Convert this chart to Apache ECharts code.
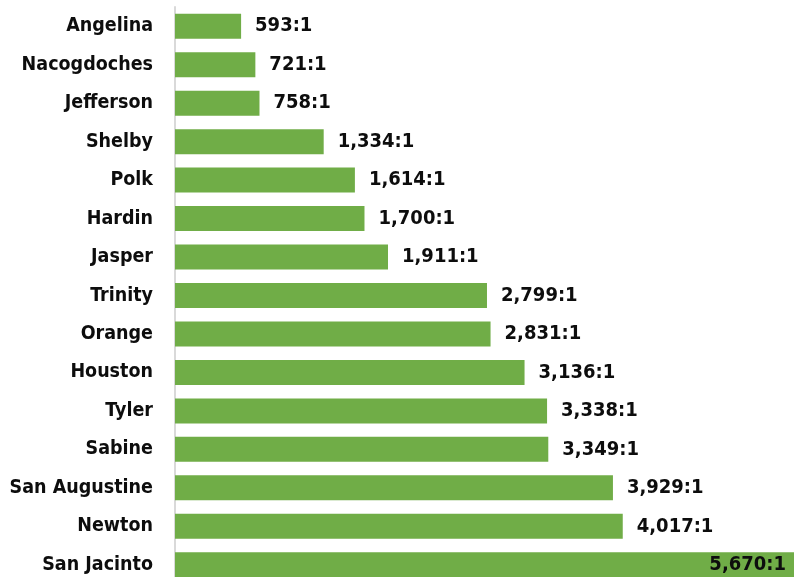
<!DOCTYPE html>
<html><head><meta charset="utf-8">
<script src="https://cdn.jsdelivr.net/npm/echarts@6/dist/echarts.min.js"></script>
<style>html,body{margin:0;padding:0;background:#fff}#c{width:794px;height:577px}</style>
</head><body><div id="c"></div>
<script>
const categories = ["Angelina","Nacogdoches","Jefferson","Shelby","Polk","Hardin","Jasper","Trinity","Orange","Houston","Tyler","Sabine","San Augustine","Newton","San Jacinto"];
const values = [593,721,758,1334,1614,1700,1911,2799,2831,3136,3338,3349,3929,4017,5670];
const FONT = '"DejaVu Sans Condensed","Liberation Sans Narrow",sans-serif';
const chart = echarts.init(document.getElementById('c'));
const data = values.map((v, i) => {
  const d = { value: v };
  if (i === values.length - 1) {
    d.label = { position: 'insideRight', offset: [-7, 0] };
  }
  return d;
});
chart.setOption({
  animation: false,
  grid: { left: 175, top: 7, width: 632, height: 577, containLabel: false, outerBoundsMode: 'none' },
  xAxis: { type: 'value', min: 0, max: 5670, show: false },
  yAxis: {
    type: 'category', data: categories, inverse: true,
    axisLine: { show: true, lineStyle: { color: '#d9d9d9', width: 2 } },
    axisTick: { show: false },
    axisLabel: { fontFamily: FONT, fontWeight: 'bold', fontSize: 19.5, color: '#0d0d0d', margin: 22 }
  },
  series: [{
    type: 'bar', data: data, barCategoryGap: '35%', clip: false,
    itemStyle: { color: '#70AD47' },
    label: {
      show: true, position: 'right', distance: 14,
      fontFamily: FONT, fontWeight: 'bold', fontSize: 20, color: '#0d0d0d',
      formatter: p => p.value.toLocaleString('en-US') + ':1'
    }
  }]
});
</script></body></html>
